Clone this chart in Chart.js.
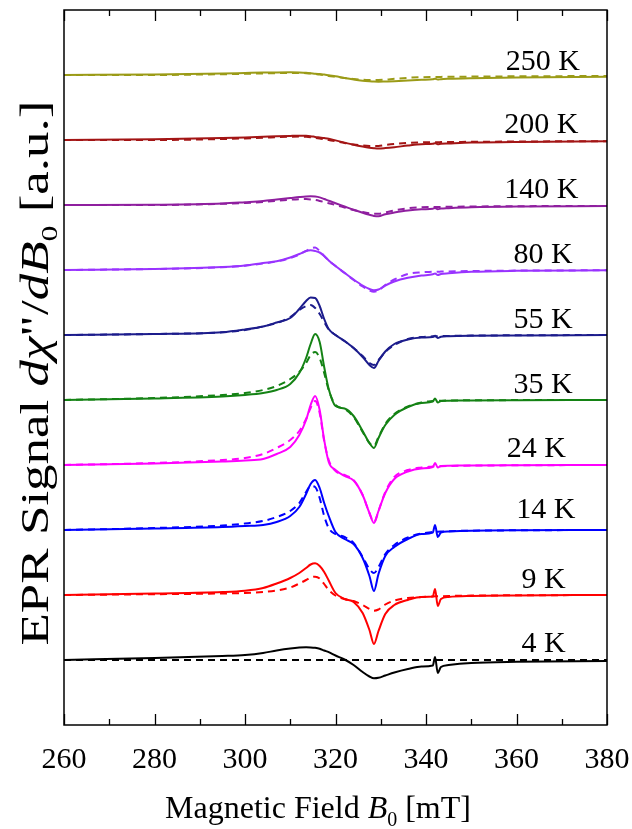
<!DOCTYPE html>
<html>
<head>
<meta charset="utf-8">
<title>EPR signal vs temperature</title>
<script src="https://cdn.jsdelivr.net/npm/chart.js@4.4.1/dist/chart.umd.min.js"></script>
<style>
  html, body { margin: 0; padding: 0; background: #fff; }
</style>
</head>
<body>
<canvas id="myChart" width="632" height="829"></canvas>
<script>
// magnetic field grid (mT), shared by every trace
var field = [260, 280, 295, 300, 304, 307, 310, 312, 313.5, 314.5, 315.5, 316.5, 317.5, 318.5, 320, 322, 324, 326, 327.5, 328.5, 329.5, 331, 333, 336, 339, 341.5, 342, 342.6, 343.3, 345, 350, 360, 380];

// temperatures, vertical offsets of each trace, colours and label positions
var temps = ['250 K', '200 K', '140 K', '80 K', '55 K', '35 K', '24 K', '14 K', '9 K', '4 K'];
var offsets = [585, 520, 455, 390, 325, 260, 195, 130, 65, 0];
var colors = ['#9b9b17', '#a31515', '#8f1f9f', '#9933ff', '#1c1c8c', '#148214', '#ff00ff', '#0000ff', '#ff0000', '#000000'];
var labelField = [365.8, 365.5, 365.5, 365.9, 365.9, 365.9, 364.4, 366.5, 366, 366];
var labelLift = [5, 7, 7, 7, 7, 7, 8, 12, 7, 8];

// measured spectra (solid lines), a.u.
var exp250 = [0, 0.5, 1.5, 2, 2.4, 2.6, 2.7, 2.5, 2.2, 1.8, 1.3, 0.9, 0.5, -0.3, -1.3, -3, -4.5, -5.7, -6.3, -6.6, -6.7, -6.5, -6.2, -5.5, -4.8, -4.3, -3.8, -4.6, -4.2, -3.8, -3.2, -2.5, -1.8];
var exp200 = [0, 0.8, 2, 2.6, 3.2, 3.7, 4.1, 4.3, 4.2, 3.8, 3.1, 2.5, 1.9, 1.2, -0.4, -2.6, -4.8, -6.6, -7.7, -8.2, -8.5, -8.1, -7.2, -5.5, -4.2, -3.8, -3.2, -4.2, -3.7, -3.4, -2.6, -1.9, -1.3];
var exp140 = [0, 0.3, 1.5, 2.8, 4, 5.5, 7, 8, 8.6, 8.7, 8.4, 7.6, 6, 4.2, 1.8, -1.5, -4.8, -7.8, -9.8, -10.9, -11.3, -9.2, -7.6, -5.6, -4.3, -3.7, -3.1, -4.2, -3.6, -3.2, -2.3, -1.5, -1];
var exp80 = [0, 1, 3, 4.5, 7, 8.7, 12.5, 16, 19, 19.7, 19, 17.5, 14, 9.5, 4, -2.8, -9.5, -15.5, -19, -20.3, -19.5, -15.5, -11.5, -7.8, -5.5, -4.3, -3.4, -5, -4, -3.3, -1.8, -0.8, -0.3];
var exp55 = [0, 1, 2.7, 5.5, 8.5, 12.5, 17, 26, 34, 37.5, 37, 29, 16, 6, 0, -6, -13, -22, -30, -33, -26, -16.5, -9, -4.5, -2.5, -2, -0.8, -3, -1.8, -1.3, -0.8, -0.4, 0];
var exp35 = [0, 1.5, 3.5, 5, 7, 10, 16, 27, 42, 56, 66, 58, 33, 11, -6, -8.5, -16, -31, -43, -48, -38, -25, -15, -7, -3, -1.5, 1.5, -2.5, -1, -0.7, -0.4, -0.2, 0];
var exp24 = [0, 1.5, 3.5, 4.5, 6, 11, 18, 30, 45, 60, 69, 55, 25, 3, -5, -11, -15.5, -30, -48, -58, -46, -28, -14, -6.5, -3.5, -2, 2, -2.5, -1, -0.7, -0.4, -0.2, 0];
var exp14 = [0, 1.5, 3, 4, 5, 8, 14, 23, 36, 46, 50, 42, 27, 14, -2, -9, -14, -28, -46, -61, -44, -26, -17, -9, -4, -2.5, 5, -7, -2.5, -1.5, -0.8, -0.3, 0];
var exp9 = [0, 1.5, 3, 4.3, 7, 11.5, 17, 22, 27, 30.5, 31.7, 29, 23, 14.5, 2, -4, -7, -18, -35, -49, -36, -19, -10, -5, -2, -1.5, 6, -11, -4, -2, -1, -0.4, 0];
var exp4 = [0, 2, 4, 5, 7, 9.5, 11.5, 12.4, 12.7, 12.6, 12.2, 11.3, 9.5, 7.8, 4.5, 0.5, -5, -12, -16.5, -18.3, -17.8, -15.5, -12.5, -9, -6.5, -5.5, 3, -13, -7, -5, -3, -1.8, -1];

// simulated spectra (dashed lines), a.u.
var sim250 = [0, 0, 0.8, 1.2, 1.6, 1.9, 2.1, 2, 1.8, 1.5, 1, 0.4, -0.2, -0.9, -1.8, -3, -4, -4.7, -5, -5.1, -5, -4.6, -3.8, -2.8, -2.2, -2, -2, -2, -1.9, -1.8, -1.6, -1.3, -1];
var sim200 = [0, 0, 1, 1.6, 2.2, 2.8, 3.3, 3.4, 3.2, 2.8, 2.2, 1.5, 0.7, -0.1, -1.3, -3, -4.5, -5.5, -6, -6.1, -6, -5, -4, -3, -2.4, -2.2, -2.2, -2.2, -2.1, -2, -1.8, -1.5, -1.2];
var sim140 = [0, 0, 1.2, 2, 3, 4.2, 5.3, 5.8, 5.9, 5.6, 5, 4.1, 3, 1.8, 0, -2.5, -5, -7, -8.2, -8.7, -8.7, -7.5, -5.5, -3.3, -2.3, -2, -2, -2, -1.9, -1.8, -1.5, -1.2, -0.9];
var sim80 = [0, 1, 2.8, 4.3, 6.5, 8.5, 12, 15.5, 19, 21.5, 22.5, 19, 14, 9.5, 4, -3, -10, -16.5, -20.5, -21.7, -20.5, -15, -9.5, -4, -2.3, -1.8, -1.7, -1.7, -1.6, -1.4, -1, -0.6, -0.3];
var sim55 = [0, 1, 2.7, 5, 8.5, 12, 18, 25, 29, 30, 27, 21, 13, 5.5, 0, -6, -13, -21, -28, -30, -25, -17, -10, -4, -2, -1.3, -1.2, -1.2, -1.1, -0.9, -0.6, -0.3, 0];
var sim35 = [0, 2, 5, 7, 10, 14, 21, 28, 37, 45, 48, 42, 27, 10, -5, -9, -17, -32, -43, -46, -37, -24, -14, -6.5, -2.5, -1, -0.8, -0.8, -0.7, -0.5, -0.3, -0.1, 0];
var sim24 = [0, 2, 5, 7, 11, 17, 25, 34, 46, 57, 64, 52, 24, 5, -6, -10, -15, -30, -48, -57, -46, -27, -12, -5, -2.5, -1.5, -1.3, -1.3, -1.2, -1, -0.6, -0.3, 0];
var sim14 = [0, 2, 4.5, 6.5, 9, 13, 19, 27, 38, 44, 43, 32, 14, 2, -4, -7, -13, -27, -39, -43, -37, -24, -15, -7.5, -3.5, -2, -1.7, -1.7, -1.6, -1.2, -0.7, -0.3, 0];
var sim9 = [0, 0.8, 1.5, 2, 3, 4.5, 7.5, 11.5, 15, 17.5, 18.3, 16.5, 11, 5, -0.5, -4, -6, -10, -14, -15.7, -14.5, -9.5, -5.5, -3, -2, -1.5, -1.3, -1.3, -1.2, -1, -0.6, -0.3, 0];
var sim4 = [0, 0, 0, 0, 0, 0, 0, 0, 0, 0, 0, 0, 0, 0, 0, 0, 0, 0, 0, 0, 0, 0, 0, 0, 0, 0, 0, 0, 0, 0, 0, 0, 0];

// axis ticks
var majorTicks = [260, 280, 300, 320, 340, 360, 380];
var minorTicks = [270, 290, 310, 330, 350, 370];

var measured = [exp250, exp200, exp140, exp80, exp55, exp35, exp24, exp14, exp9, exp4];
var simulated = [sim250, sim200, sim140, sim80, sim55, sim35, sim24, sim14, sim9, sim4];

var SERIF = '"Liberation Serif", "Times New Roman", serif';

// shift a trace up by its offset and pair it with the field values
function toPoints(values, offset) {
    return field.map(function (b, i) { return { x: b, y: values[i] + offset }; });
}

var datasets = [];
for (var i = 0; i < temps.length; i++) {
    datasets.push({
        label: temps[i] + ' exp',
        data: toPoints(measured[i], offsets[i]),
        borderColor: colors[i],
        borderWidth: 2,
        cubicInterpolationMode: 'monotone'
    });
    datasets.push({
        label: temps[i] + ' sim',
        data: toPoints(simulated[i], offsets[i]),
        borderColor: colors[i],
        borderWidth: 2,
        borderDash: [7, 5],
        cubicInterpolationMode: 'monotone'
    });
}

// width of a line of text made of several styled pieces
function richWidth(ctx, parts) {
    var total = 0;
    parts.forEach(function (p) { ctx.font = p.font; total += ctx.measureText(p.t).width; });
    return total;
}

// draw such a line centred on x
function drawRich(ctx, parts, x, y) {
    var cx = x - richWidth(ctx, parts) / 2;
    parts.forEach(function (p) {
        ctx.font = p.font;
        ctx.fillText(p.t, cx, y + (p.dy || 0));
        cx += ctx.measureText(p.t).width;
    });
}

var decorations = {
    id: 'decorations',
    afterDraw: function (chart) {
        var ctx = chart.ctx;
        var area = chart.chartArea;
        var xs = chart.scales.x;
        var ys = chart.scales.y;
        ctx.save();

        // frame
        ctx.strokeStyle = '#000';
        ctx.lineWidth = 1.5;
        ctx.strokeRect(area.left, area.top, area.right - area.left, area.bottom - area.top);

        // inward ticks on bottom and top
        ctx.lineWidth = 1.3;
        ctx.beginPath();
        majorTicks.concat(minorTicks).forEach(function (v) {
            var px = Math.round(xs.getPixelForValue(v)) + 0.5;
            var len = majorTicks.indexOf(v) >= 0 ? 11 : 6;
            ctx.moveTo(px, area.bottom);
            ctx.lineTo(px, area.bottom - len);
            ctx.moveTo(px, area.top);
            ctx.lineTo(px, area.top + len);
        });
        ctx.stroke();

        // temperature labels
        ctx.fillStyle = '#000';
        ctx.textAlign = 'left';
        ctx.textBaseline = 'alphabetic';
        ctx.font = '30px ' + SERIF;
        for (var i = 0; i < temps.length; i++) {
            var w = ctx.measureText(temps[i]).width;
            ctx.fillText(temps[i], xs.getPixelForValue(labelField[i]) - w / 2, ys.getPixelForValue(offsets[i] + labelLift[i]));
        }

        // x axis title
        var normal = '32px ' + SERIF;
        var italic = 'italic 32px ' + SERIF;
        var sub = '20px ' + SERIF;
        drawRich(ctx, [
            { t: 'Magnetic Field ', font: normal },
            { t: 'B', font: italic },
            { t: '0', font: sub, dy: 8 },
            { t: ' [mT]', font: normal }
        ], 318, 818);

        // y axis title, rotated and slightly stretched along its length
        var yNormal = '40px ' + SERIF;
        var yItalic = 'italic 40px ' + SERIF;
        var ySub = '24px ' + SERIF;
        var yParts = [
            { t: 'EPR Signal ', font: yNormal },
            { t: 'd\u03c7', font: yItalic },
            { t: '"/', font: yNormal },
            { t: 'dB', font: yItalic },
            { t: '0', font: ySub, dy: 9 },
            { t: ' [a.u.]', font: yNormal }
        ];
        var stretch = 545 / richWidth(ctx, yParts);
        ctx.translate(48, 373);
        ctx.rotate(-Math.PI / 2);
        ctx.scale(stretch, 1);
        drawRich(ctx, yParts, 0, 0);

        ctx.restore();
    }
};

var ctx = document.getElementById('myChart').getContext('2d');
var myChart = new Chart(ctx, {
    type: 'line',
    data: { datasets: datasets },
    options: {
        responsive: false,
        animation: false,
        devicePixelRatio: 1,
        layout: { padding: { top: 10, right: 25, left: 0, bottom: 0 } },
        elements: { point: { radius: 0 } },
        plugins: {
            legend: { display: false },
            tooltip: { enabled: false }
        },
        scales: {
            x: {
                type: 'linear',
                min: 260,
                max: 380,
                grid: { display: false, drawTicks: false },
                border: { display: false },
                ticks: {
                    stepSize: 20,
                    padding: 17,
                    color: '#000',
                    font: { family: SERIF, size: 30 }
                },
                afterFit: function (scale) {
                    scale.height = 104;
                    scale.paddingLeft = 0;
                    scale.paddingRight = 0;
                }
            },
            y: {
                min: -65,
                max: 650,
                grid: { display: false },
                border: { display: false },
                ticks: { display: false },
                afterFit: function (scale) { scale.width = 64; }
            }
        }
    },
    plugins: [decorations]
});
</script>
</body>
</html>
